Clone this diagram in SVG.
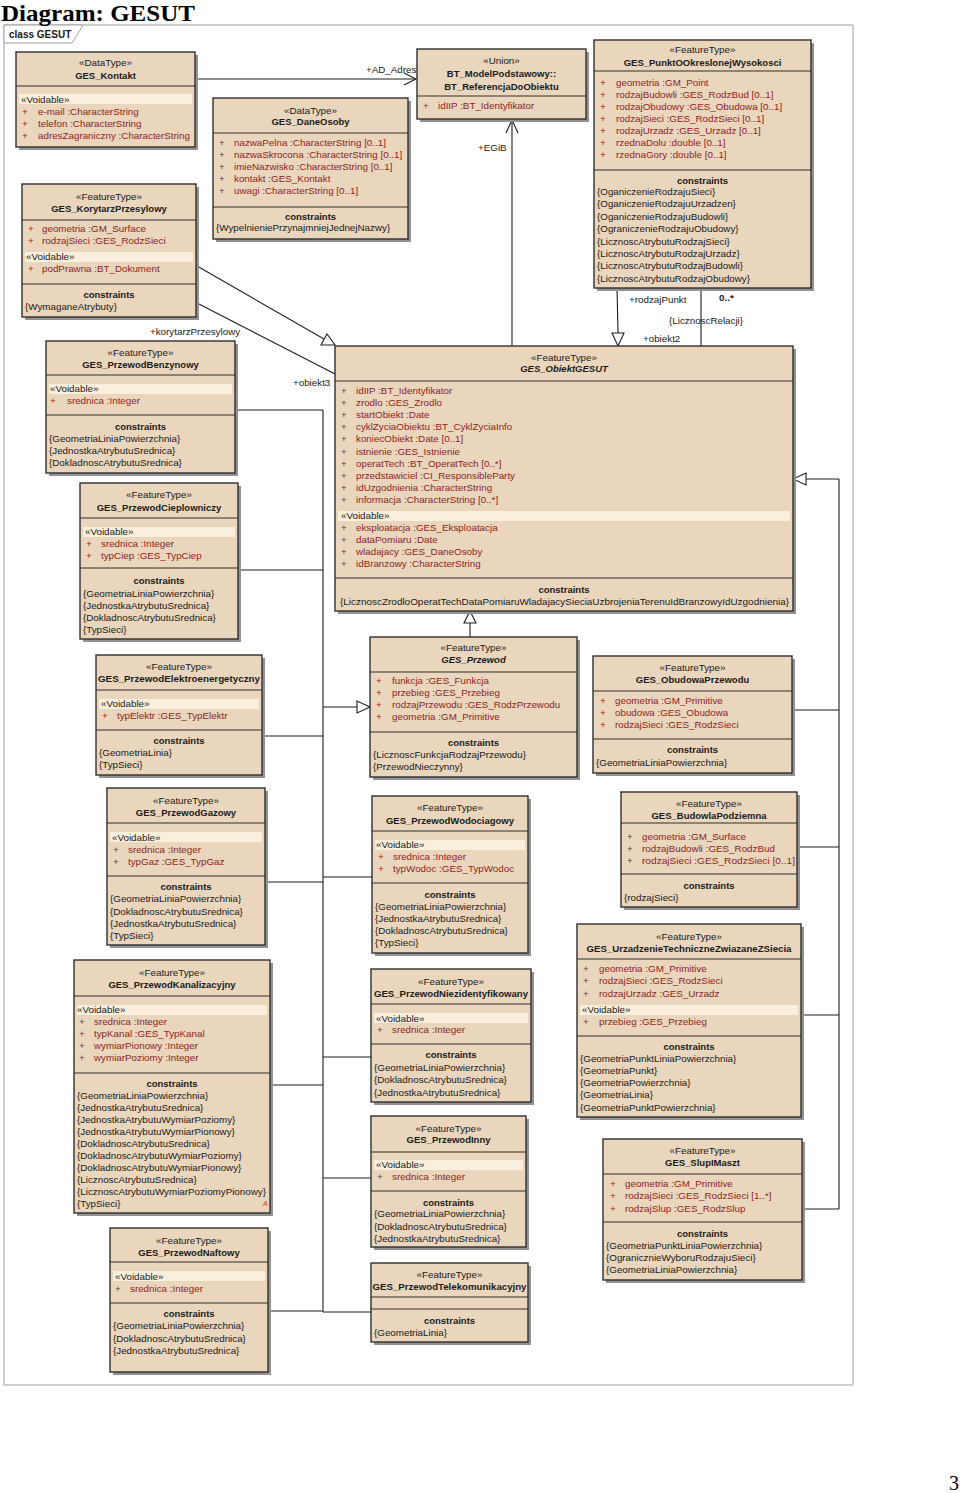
<svg xmlns="http://www.w3.org/2000/svg" width="960" height="1493" viewBox="0 0 960 1493" xml:space="preserve">
<style>
text{font-family:"Liberation Sans",Arial,sans-serif;font-size:9.8px;fill:#1a1a1a}
.sh{fill:#929292}
.bx{fill:#E9D6BC;stroke:#303030;stroke-width:1.4}
.dv{stroke:#303030;stroke-width:1.2}
.bd{fill:#FAEEDC}
.c{text-anchor:middle}
.b{font-weight:bold;font-size:9.5px}
.bi{font-weight:bold;font-style:italic;font-size:9.5px}
.a{fill:#8E2424}
.ln{stroke:#1e1e1e;stroke-width:1.1;fill:none}
.tri{fill:#fff;stroke:#1e1e1e;stroke-width:1.1}
.fr{fill:#fff;stroke:#a0a0a0;stroke-width:1}
</style>
<rect width="960" height="1493" fill="#fff"/>
<g id="frame">
<rect class="fr" x="4" y="25" width="849" height="1360"/>
<polygon class="fr" points="4,25 82,25 82,27 72,43 4,43"/>
<text x="9" y="38" style="font-weight:bold;font-size:10px">class GESUT</text>
</g>
<text x="1" y="20.5" textLength="194" lengthAdjust="spacingAndGlyphs" style="font-family:'Liberation Serif','Times New Roman',serif;font-size:23px;font-weight:bold;fill:#000">Diagram: GESUT</text>
<text x="949" y="1490" style="font-family:'Liberation Serif','Times New Roman',serif;font-size:20px;fill:#000">3</text>

<g id="connectors">
<line class="ln" x1="195" y1="79" x2="416" y2="79"/>
<polyline class="ln" points="404,73 416,79 404,85"/>
<text x="366" y="73">+AD_Adres</text>
<line class="ln" x1="512" y1="346" x2="512" y2="120"/>
<polyline class="ln" points="506,133 512,120 518,133"/>
<text x="478" y="151">+EGiB</text>
<line class="ln" x1="617" y1="288" x2="618" y2="333"/>
<polygon class="tri" points="612,333 624,333 618,346"/>
<line class="ln" x1="701" y1="288" x2="701" y2="346"/>
<text x="629" y="303">+rodzajPunkt</text>
<text x="719" y="301" style="font-weight:bold">0..*</text>
<text x="669" y="324">{LicznoscRelacji}</text>
<text x="643" y="342">+obiekt2</text>
<line class="ln" x1="197" y1="266" x2="324" y2="339"/>
<polygon class="tri" points="335,345 321,345 327,334"/>
<line class="ln" x1="197" y1="303" x2="335" y2="374"/>
<text x="150" y="335">+korytarzPrzesylowy</text>
<text x="293" y="386">+obiekt3</text>
<line class="ln" x1="470" y1="637" x2="470" y2="623"/>
<polygon class="tri" points="464,623 476,623 470,611"/>
<line class="ln" x1="323" y1="410" x2="323" y2="1312"/>
<line class="ln" x1="235" y1="410" x2="323" y2="410"/>
<line class="ln" x1="238" y1="570" x2="323" y2="570"/>
<line class="ln" x1="262" y1="736" x2="323" y2="736"/>
<line class="ln" x1="265" y1="882" x2="323" y2="882"/>
<line class="ln" x1="323" y1="877" x2="372" y2="877"/>
<line class="ln" x1="270" y1="1085" x2="323" y2="1085"/>
<line class="ln" x1="323" y1="1057" x2="371" y2="1057"/>
<line class="ln" x1="323" y1="1178" x2="371" y2="1178"/>
<line class="ln" x1="268" y1="1311" x2="323" y2="1311"/>
<line class="ln" x1="323" y1="1312" x2="371" y2="1312"/>
<line class="ln" x1="323" y1="707" x2="357" y2="707"/>
<polygon class="tri" points="357,701 357,713 370,707"/>
<line class="ln" x1="839" y1="479" x2="839" y2="1209"/>
<line class="ln" x1="806" y1="479" x2="839" y2="479"/>
<polygon class="tri" points="806,473 806,485 793,479"/>
<line class="ln" x1="792" y1="710" x2="839" y2="710"/>
<line class="ln" x1="797" y1="847" x2="839" y2="847"/>
<line class="ln" x1="801" y1="1015" x2="839" y2="1015"/>
<line class="ln" x1="802" y1="1209" x2="839" y2="1209"/>
</g>

<g id="GES_Kontakt">
<rect class="sh" x="19" y="55" width="179" height="95"/>
<rect class="bx" x="16" y="52" width="179" height="95"/>
<line class="dv" x1="16" y1="86" x2="195" y2="86"/>
<rect class="bd" x="19" y="94" width="173" height="10"/>
<text class="c" x="105.5" y="66">«DataType»</text>
<text class="c b" x="105.5" y="79">GES_Kontakt</text>
<text x="21" y="103">«Voidable»</text>
<text class="a" x="22" y="115">+</text><text class="a" x="38" y="115">e-mail  :CharacterString</text>
<text class="a" x="22" y="127">+</text><text class="a" x="38" y="127">telefon  :CharacterString</text>
<text class="a" x="22" y="139">+</text><text class="a" x="38" y="139">adresZagraniczny  :CharacterString</text>
</g>

<g id="GES_KorytarzPrzesylowy">
<rect class="sh" x="25" y="187" width="174" height="133"/>
<rect class="bx" x="22" y="184" width="174" height="133"/>
<line class="dv" x1="22" y1="220" x2="196" y2="220"/>
<line class="dv" x1="22" y1="284" x2="196" y2="284"/>
<rect class="bd" x="25" y="252" width="168" height="10"/>
<text class="c" x="109" y="200">«FeatureType»</text>
<text class="c b" x="109" y="212">GES_KorytarzPrzesylowy</text>
<text class="a" x="28" y="232">+</text><text class="a" x="42" y="232">geometria  :GM_Surface</text>
<text class="a" x="28" y="244">+</text><text class="a" x="42" y="244">rodzajSieci  :GES_RodzSieci</text>
<text x="26" y="260">«Voidable»</text>
<text class="a" x="28" y="272">+</text><text class="a" x="42" y="272">podPrawna  :BT_Dokument</text>
<text class="c b" x="109" y="298">constraints</text>
<text x="25" y="310">{WymaganeAtrybuty}</text>
</g>

<g id="GES_DaneOsoby">
<rect class="sh" x="216" y="101" width="195" height="141"/>
<rect class="bx" x="213" y="98" width="195" height="141"/>
<line class="dv" x1="213" y1="133" x2="408" y2="133"/>
<line class="dv" x1="213" y1="207" x2="408" y2="207"/>
<text class="c" x="310.5" y="114">«DataType»</text>
<text class="c b" x="310.5" y="125">GES_DaneOsoby</text>
<text class="a" x="219" y="146">+</text><text class="a" x="234" y="146">nazwaPelna  :CharacterString [0..1]</text>
<text class="a" x="219" y="158">+</text><text class="a" x="234" y="158">nazwaSkrocona  :CharacterString [0..1]</text>
<text class="a" x="219" y="170">+</text><text class="a" x="234" y="170">imieNazwisko  :CharacterString [0..1]</text>
<text class="a" x="219" y="182">+</text><text class="a" x="234" y="182">kontakt  :GES_Kontakt</text>
<text class="a" x="219" y="194">+</text><text class="a" x="234" y="194">uwagi  :CharacterString [0..1]</text>
<text class="c b" x="310.5" y="220">constraints</text>
<text x="216" y="231">{WypelnieniePrzynajmniejJednejNazwy}</text>
</g>

<g id="BT_ReferencjaDoObiektu">
<rect class="sh" x="420" y="52" width="169" height="70"/>
<rect class="bx" x="417" y="49" width="169" height="70"/>
<line class="dv" x1="417" y1="96" x2="586" y2="96"/>
<text class="c" x="501.5" y="64">«Union»</text>
<text class="c b" x="501.5" y="77">BT_ModelPodstawowy::</text>
<text class="c b" x="501.5" y="90">BT_ReferencjaDoObiektu</text>
<text class="a" x="423" y="109">+</text><text class="a" x="438" y="109">idIIP  :BT_Identyfikator</text>
</g>

<g id="GES_PunktOOkreslonejWysokosci">
<rect class="sh" x="597" y="43" width="217" height="248"/>
<rect class="bx" x="594" y="40" width="217" height="248"/>
<line class="dv" x1="594" y1="71" x2="811" y2="71"/>
<line class="dv" x1="594" y1="170" x2="811" y2="170"/>
<text class="c" x="702.5" y="53">«FeatureType»</text>
<text class="c b" x="702.5" y="66">GES_PunktOOkreslonejWysokosci</text>
<text class="a" x="600" y="86">+</text><text class="a" x="616" y="86">geometria  :GM_Point</text>
<text class="a" x="600" y="98">+</text><text class="a" x="616" y="98">rodzajBudowli  :GES_RodzBud [0..1]</text>
<text class="a" x="600" y="110">+</text><text class="a" x="616" y="110">rodzajObudowy  :GES_Obudowa [0..1]</text>
<text class="a" x="600" y="122">+</text><text class="a" x="616" y="122">rodzajSieci  :GES_RodzSieci [0..1]</text>
<text class="a" x="600" y="134">+</text><text class="a" x="616" y="134">rodzajUrzadz  :GES_Urzadz [0..1]</text>
<text class="a" x="600" y="146">+</text><text class="a" x="616" y="146">rzednaDolu  :double [0..1]</text>
<text class="a" x="600" y="158">+</text><text class="a" x="616" y="158">rzednaGory  :double [0..1]</text>
<text class="c b" x="702.5" y="184">constraints</text>
<text x="597" y="195">{OganiczenieRodzajuSieci}</text>
<text x="597" y="207">{OganiczenieRodzajuUrzadzen}</text>
<text x="597" y="220">{OganiczenieRodzajuBudowli}</text>
<text x="597" y="232">{OgraniczenieRodzajuObudowy}</text>
<text x="597" y="245">{LicznoscAtrybutuRodzajSieci}</text>
<text x="597" y="257">{LicznoscAtrybutuRodzajUrzadz}</text>
<text x="597" y="269">{LicznoscAtrybutuRodzajBudowli}</text>
<text x="597" y="282">{LicznoscAtrybutuRodzajObudowy}</text>
</g>

<g id="GES_ObiektGESUT">
<rect class="sh" x="338" y="349" width="458" height="265"/>
<rect class="bx" x="335" y="346" width="458" height="265"/>
<line class="dv" x1="335" y1="381" x2="793" y2="381"/>
<line class="dv" x1="335" y1="578" x2="793" y2="578"/>
<rect class="bd" x="338" y="511" width="452" height="10"/>
<text class="c" x="564" y="361">«FeatureType»</text>
<text class="c bi" x="564" y="372">GES_ObiektGESUT</text>
<text class="a" x="341" y="394">+</text><text class="a" x="356" y="394">idIIP  :BT_Identyfikator</text>
<text class="a" x="341" y="406">+</text><text class="a" x="356" y="406">zrodlo  :GES_Zrodlo</text>
<text class="a" x="341" y="418">+</text><text class="a" x="356" y="418">startObiekt  :Date</text>
<text class="a" x="341" y="430">+</text><text class="a" x="356" y="430">cyklZyciaObiektu  :BT_CyklZyciaInfo</text>
<text class="a" x="341" y="442">+</text><text class="a" x="356" y="442">koniecObiekt  :Date [0..1]</text>
<text class="a" x="341" y="455">+</text><text class="a" x="356" y="455">istnienie  :GES_Istnienie</text>
<text class="a" x="341" y="467">+</text><text class="a" x="356" y="467">operatTech  :BT_OperatTech [0..*]</text>
<text class="a" x="341" y="479">+</text><text class="a" x="356" y="479">przedstawiciel  :CI_ResponsibleParty</text>
<text class="a" x="341" y="491">+</text><text class="a" x="356" y="491">idUzgodnienia  :CharacterString</text>
<text class="a" x="341" y="503">+</text><text class="a" x="356" y="503">informacja  :CharacterString [0..*]</text>
<text x="341" y="519">«Voidable»</text>
<text class="a" x="341" y="531">+</text><text class="a" x="356" y="531">eksploatacja  :GES_Eksploatacja</text>
<text class="a" x="341" y="543">+</text><text class="a" x="356" y="543">dataPomiaru  :Date</text>
<text class="a" x="341" y="555">+</text><text class="a" x="356" y="555">wladajacy  :GES_DaneOsoby</text>
<text class="a" x="341" y="567">+</text><text class="a" x="356" y="567">idBranzowy  :CharacterString</text>
<text class="c b" x="564" y="593">constraints</text>
<text x="340" y="605" textLength="449" lengthAdjust="spacingAndGlyphs">{LicznoscZrodloOperatTechDataPomiaruWladajacySieciaUzbrojeniaTerenuIdBranzowyIdUzgodnienia}</text>
</g>

<g id="GES_PrzewodBenzynowy">
<rect class="sh" x="49" y="344" width="189" height="132"/>
<rect class="bx" x="46" y="341" width="189" height="132"/>
<line class="dv" x1="46" y1="375" x2="235" y2="375"/>
<line class="dv" x1="46" y1="415" x2="235" y2="415"/>
<rect class="bd" x="49" y="384" width="183" height="10"/>
<text class="c" x="140.5" y="356">«FeatureType»</text>
<text class="c b" x="140.5" y="368">GES_PrzewodBenzynowy</text>
<text x="50" y="392">«Voidable»</text>
<text class="a" x="50" y="404">+</text><text class="a" x="67" y="404">srednica  :Integer</text>
<text class="c b" x="140.5" y="430">constraints</text>
<text x="49" y="442">{GeometriaLiniaPowierzchnia}</text>
<text x="49" y="454">{JednostkaAtrybutuSrednica}</text>
<text x="49" y="466">{DokladnoscAtrybutuSrednica}</text>
</g>

<g id="GES_PrzewodCieplowniczy">
<rect class="sh" x="83" y="486" width="158" height="156"/>
<rect class="bx" x="80" y="483" width="158" height="156"/>
<line class="dv" x1="80" y1="518" x2="238" y2="518"/>
<line class="dv" x1="80" y1="568" x2="238" y2="568"/>
<rect class="bd" x="83" y="527" width="152" height="10"/>
<text class="c" x="159" y="498">«FeatureType»</text>
<text class="c b" x="159" y="511">GES_PrzewodCieplowniczy</text>
<text x="85" y="535">«Voidable»</text>
<text class="a" x="86" y="547">+</text><text class="a" x="101" y="547">srednica  :Integer</text>
<text class="a" x="86" y="559">+</text><text class="a" x="101" y="559">typCiep  :GES_TypCiep</text>
<text class="c b" x="159" y="584">constraints</text>
<text x="83" y="597">{GeometriaLiniaPowierzchnia}</text>
<text x="83" y="609">{JednostkaAtrybutuSrednica}</text>
<text x="83" y="621">{DokladnoscAtrybutuSrednica}</text>
<text x="83" y="633">{TypSieci}</text>
</g>

<g id="GES_PrzewodElektroenergetyczny">
<rect class="sh" x="99" y="658" width="166" height="120"/>
<rect class="bx" x="96" y="655" width="166" height="120"/>
<line class="dv" x1="96" y1="690" x2="262" y2="690"/>
<line class="dv" x1="96" y1="730" x2="262" y2="730"/>
<rect class="bd" x="99" y="699" width="160" height="10"/>
<text class="c" x="179" y="670">«FeatureType»</text>
<text class="c b" x="179" y="682" textLength="162" lengthAdjust="spacingAndGlyphs">GES_PrzewodElektroenergetyczny</text>
<text x="101" y="707">«Voidable»</text>
<text class="a" x="102" y="719">+</text><text class="a" x="117" y="719">typElektr  :GES_TypElektr</text>
<text class="c b" x="179" y="744">constraints</text>
<text x="99" y="756">{GeometriaLinia}</text>
<text x="99" y="768">{TypSieci}</text>
</g>

<g id="GES_Przewod">
<rect class="sh" x="373" y="640" width="207" height="140"/>
<rect class="bx" x="370" y="637" width="207" height="140"/>
<line class="dv" x1="370" y1="672" x2="577" y2="672"/>
<line class="dv" x1="370" y1="732" x2="577" y2="732"/>
<text class="c" x="473.5" y="651">«FeatureType»</text>
<text class="c bi" x="473.5" y="663">GES_Przewod</text>
<text class="a" x="376" y="684">+</text><text class="a" x="392" y="684">funkcja  :GES_Funkcja</text>
<text class="a" x="376" y="696">+</text><text class="a" x="392" y="696">przebieg  :GES_Przebieg</text>
<text class="a" x="376" y="708">+</text><text class="a" x="392" y="708">rodzajPrzewodu  :GES_RodzPrzewodu</text>
<text class="a" x="376" y="720">+</text><text class="a" x="392" y="720">geometria  :GM_Primitive</text>
<text class="c b" x="473.5" y="746">constraints</text>
<text x="373" y="758">{LicznoscFunkcjaRodzajPrzewodu}</text>
<text x="373" y="770">{PrzewodNieczynny}</text>
</g>

<g id="GES_ObudowaPrzewodu">
<rect class="sh" x="596" y="659" width="199" height="117"/>
<rect class="bx" x="593" y="656" width="199" height="117"/>
<line class="dv" x1="593" y1="691" x2="792" y2="691"/>
<line class="dv" x1="593" y1="739" x2="792" y2="739"/>
<text class="c" x="692.5" y="671">«FeatureType»</text>
<text class="c b" x="692.5" y="683">GES_ObudowaPrzewodu</text>
<text class="a" x="600" y="704">+</text><text class="a" x="615" y="704">geometria  :GM_Primitive</text>
<text class="a" x="600" y="716">+</text><text class="a" x="615" y="716">obudowa  :GES_Obudowa</text>
<text class="a" x="600" y="728">+</text><text class="a" x="615" y="728">rodzajSieci  :GES_RodzSieci</text>
<text class="c b" x="692.5" y="753">constraints</text>
<text x="596" y="766">{GeometriaLiniaPowierzchnia}</text>
</g>

<g id="GES_PrzewodGazowy">
<rect class="sh" x="110" y="791" width="158" height="157"/>
<rect class="bx" x="107" y="788" width="158" height="157"/>
<line class="dv" x1="107" y1="823" x2="265" y2="823"/>
<line class="dv" x1="107" y1="876" x2="265" y2="876"/>
<rect class="bd" x="110" y="832" width="152" height="10"/>
<text class="c" x="186" y="804">«FeatureType»</text>
<text class="c b" x="186" y="816">GES_PrzewodGazowy</text>
<text x="112" y="841">«Voidable»</text>
<text class="a" x="113" y="853">+</text><text class="a" x="128" y="853">srednica  :Integer</text>
<text class="a" x="113" y="865">+</text><text class="a" x="128" y="865">typGaz  :GES_TypGaz</text>
<text class="c b" x="186" y="890">constraints</text>
<text x="110" y="902">{GeometriaLiniaPowierzchnia}</text>
<text x="110" y="915">{DokladnoscAtrybutuSrednica}</text>
<text x="110" y="927">{JednostkaAtrybutuSrednica}</text>
<text x="110" y="939">{TypSieci}</text>
</g>

<g id="GES_PrzewodWodociagowy">
<rect class="sh" x="375" y="799" width="156" height="157"/>
<rect class="bx" x="372" y="796" width="156" height="157"/>
<line class="dv" x1="372" y1="831" x2="528" y2="831"/>
<line class="dv" x1="372" y1="883" x2="528" y2="883"/>
<rect class="bd" x="375" y="840" width="150" height="10"/>
<text class="c" x="450" y="811">«FeatureType»</text>
<text class="c b" x="450" y="824">GES_PrzewodWodociagowy</text>
<text x="376" y="848">«Voidable»</text>
<text class="a" x="378" y="860">+</text><text class="a" x="393" y="860">srednica  :Integer</text>
<text class="a" x="378" y="872">+</text><text class="a" x="393" y="872">typWodoc  :GES_TypWodoc</text>
<text class="c b" x="450" y="898">constraints</text>
<text x="375" y="910">{GeometriaLiniaPowierzchnia}</text>
<text x="375" y="922">{JednostkaAtrybutuSrednica}</text>
<text x="375" y="934">{DokladnoscAtrybutuSrednica}</text>
<text x="375" y="946">{TypSieci}</text>
</g>

<g id="GES_BudowlaPodziemna">
<rect class="sh" x="624" y="795" width="176" height="115"/>
<rect class="bx" x="621" y="792" width="176" height="115"/>
<line class="dv" x1="621" y1="823" x2="797" y2="823"/>
<line class="dv" x1="621" y1="874" x2="797" y2="874"/>
<text class="c" x="709" y="807">«FeatureType»</text>
<text class="c b" x="709" y="819">GES_BudowlaPodziemna</text>
<text class="a" x="627" y="840">+</text><text class="a" x="642" y="840">geometria  :GM_Surface</text>
<text class="a" x="627" y="852">+</text><text class="a" x="642" y="852">rodzajBudowli  :GES_RodzBud</text>
<text class="a" x="627" y="864">+</text><text class="a" x="642" y="864" textLength="153" lengthAdjust="spacingAndGlyphs">rodzajSieci  :GES_RodzSieci [0..1]</text>
<text class="c b" x="709" y="889">constraints</text>
<text x="624" y="901">{rodzajSieci}</text>
</g>

<g id="GES_UrzadzenieTechniczneZwiazaneZSiecia">
<rect class="sh" x="580" y="927" width="224" height="193"/>
<rect class="bx" x="577" y="924" width="224" height="193"/>
<line class="dv" x1="577" y1="959" x2="801" y2="959"/>
<line class="dv" x1="577" y1="1036" x2="801" y2="1036"/>
<rect class="bd" x="580" y="1005" width="218" height="10"/>
<text class="c" x="689" y="940">«FeatureType»</text>
<text class="c b" x="689" y="952" textLength="205" lengthAdjust="spacingAndGlyphs">GES_UrzadzenieTechniczneZwiazaneZSiecia</text>
<text class="a" x="583" y="972">+</text><text class="a" x="599" y="972">geometria  :GM_Primitive</text>
<text class="a" x="583" y="984">+</text><text class="a" x="599" y="984">rodzajSieci  :GES_RodzSieci</text>
<text class="a" x="583" y="997">+</text><text class="a" x="599" y="997">rodzajUrzadz  :GES_Urzadz</text>
<text x="582" y="1013">«Voidable»</text>
<text class="a" x="583" y="1025">+</text><text class="a" x="599" y="1025">przebieg  :GES_Przebieg</text>
<text class="c b" x="689" y="1050">constraints</text>
<text x="580" y="1062">{GeometriaPunktLiniaPowierzchnia}</text>
<text x="580" y="1074">{GeometriaPunkt}</text>
<text x="580" y="1086">{GeometriaPowierzchnia}</text>
<text x="580" y="1098">{GeometriaLinia}</text>
<text x="580" y="1111">{GeometriaPunktPowierzchnia}</text>
</g>

<g id="GES_PrzewodKanalizacyjny">
<rect class="sh" x="77" y="963" width="196" height="253"/>
<rect class="bx" x="74" y="960" width="196" height="253"/>
<line class="dv" x1="74" y1="996" x2="270" y2="996"/>
<line class="dv" x1="74" y1="1073" x2="270" y2="1073"/>
<rect class="bd" x="77" y="1005" width="190" height="10"/>
<text class="c" x="172" y="976">«FeatureType»</text>
<text class="c b" x="172" y="988">GES_PrzewodKanalizacyjny</text>
<text x="77" y="1013">«Voidable»</text>
<text class="a" x="79" y="1025">+</text><text class="a" x="94" y="1025">srednica  :Integer</text>
<text class="a" x="79" y="1037">+</text><text class="a" x="94" y="1037">typKanal  :GES_TypKanal</text>
<text class="a" x="79" y="1049">+</text><text class="a" x="94" y="1049">wymiarPionowy  :Integer</text>
<text class="a" x="79" y="1061">+</text><text class="a" x="94" y="1061">wymiarPoziomy  :Integer</text>
<text class="c b" x="172" y="1087">constraints</text>
<text x="77" y="1099">{GeometriaLiniaPowierzchnia}</text>
<text x="77" y="1111">{JednostkaAtrybutuSrednica}</text>
<text x="77" y="1123">{JednostkaAtrybutuWymiarPoziomy}</text>
<text x="77" y="1135">{JednostkaAtrybutuWymiarPionowy}</text>
<text x="77" y="1147">{DokladnoscAtrybutuSrednica}</text>
<text x="77" y="1159">{DokladnoscAtrybutuWymiarPoziomy}</text>
<text x="77" y="1171">{DokladnoscAtrybutuWymiarPionowy}</text>
<text x="77" y="1183">{LicznoscAtrybutuSrednica}</text>
<text x="77" y="1195" textLength="189" lengthAdjust="spacingAndGlyphs">{LicznoscAtrybutuWymiarPoziomyPionowy}</text>
<text x="77" y="1207">{TypSieci}</text>
<text x="263" y="1206" style="font-size:7px;font-style:italic;fill:#d03030">A</text>
</g>

<g id="GES_PrzewodNiezidentyfikowany">
<rect class="sh" x="374" y="972" width="160" height="133"/>
<rect class="bx" x="371" y="969" width="160" height="133"/>
<line class="dv" x1="371" y1="1004" x2="531" y2="1004"/>
<line class="dv" x1="371" y1="1044" x2="531" y2="1044"/>
<rect class="bd" x="374" y="1013" width="154" height="10"/>
<text class="c" x="451" y="985">«FeatureType»</text>
<text class="c b" x="451" y="997" textLength="154" lengthAdjust="spacingAndGlyphs">GES_PrzewodNiezidentyfikowany</text>
<text x="376" y="1022">«Voidable»</text>
<text class="a" x="377" y="1033">+</text><text class="a" x="392" y="1033">srednica  :Integer</text>
<text class="c b" x="451" y="1058">constraints</text>
<text x="374" y="1071">{GeometriaLiniaPowierzchnia}</text>
<text x="374" y="1083">{DokladnoscAtrybutuSrednica}</text>
<text x="374" y="1096">{JednostkaAtrybutuSrednica}</text>
</g>

<g id="GES_PrzewodInny">
<rect class="sh" x="374" y="1119" width="155" height="131"/>
<rect class="bx" x="371" y="1116" width="155" height="131"/>
<line class="dv" x1="371" y1="1152" x2="526" y2="1152"/>
<line class="dv" x1="371" y1="1191" x2="526" y2="1191"/>
<rect class="bd" x="374" y="1160" width="149" height="10"/>
<text class="c" x="448.5" y="1132">«FeatureType»</text>
<text class="c b" x="448.5" y="1143">GES_PrzewodInny</text>
<text x="376" y="1168">«Voidable»</text>
<text class="a" x="377" y="1180">+</text><text class="a" x="392" y="1180">srednica  :Integer</text>
<text class="c b" x="448.5" y="1206">constraints</text>
<text x="374" y="1217">{GeometriaLiniaPowierzchnia}</text>
<text x="374" y="1230">{DokladnoscAtrybutuSrednica}</text>
<text x="374" y="1242">{JednostkaAtrybutuSrednica}</text>
</g>

<g id="GES_PrzewodNaftowy">
<rect class="sh" x="113" y="1231" width="158" height="144"/>
<rect class="bx" x="110" y="1228" width="158" height="144"/>
<line class="dv" x1="110" y1="1262" x2="268" y2="1262"/>
<line class="dv" x1="110" y1="1303" x2="268" y2="1303"/>
<rect class="bd" x="113" y="1271" width="152" height="10"/>
<text class="c" x="189" y="1244">«FeatureType»</text>
<text class="c b" x="189" y="1256">GES_PrzewodNaftowy</text>
<text x="115" y="1280">«Voidable»</text>
<text class="a" x="115" y="1292">+</text><text class="a" x="130" y="1292">srednica  :Integer</text>
<text class="c b" x="189" y="1317">constraints</text>
<text x="113" y="1329">{GeometriaLiniaPowierzchnia}</text>
<text x="113" y="1342">{DokladnoscAtrybutuSrednica}</text>
<text x="113" y="1354">{JednostkaAtrybutuSrednica}</text>
</g>

<g id="GES_PrzewodTelekomunikacyjny">
<rect class="sh" x="374" y="1266" width="157" height="79"/>
<rect class="bx" x="371" y="1263" width="157" height="79"/>
<line class="dv" x1="371" y1="1297" x2="528" y2="1297"/>
<line class="dv" x1="371" y1="1309" x2="528" y2="1309"/>
<text class="c" x="449.5" y="1278">«FeatureType»</text>
<text class="c b" x="449.5" y="1290" textLength="154" lengthAdjust="spacingAndGlyphs">GES_PrzewodTelekomunikacyjny</text>
<text class="c b" x="449.5" y="1324">constraints</text>
<text x="374" y="1336">{GeometriaLinia}</text>
</g>

<g id="GES_SlupIMaszt">
<rect class="sh" x="606" y="1142" width="199" height="141"/>
<rect class="bx" x="603" y="1139" width="199" height="141"/>
<line class="dv" x1="603" y1="1174" x2="802" y2="1174"/>
<line class="dv" x1="603" y1="1222" x2="802" y2="1222"/>
<text class="c" x="702.5" y="1154">«FeatureType»</text>
<text class="c b" x="702.5" y="1166">GES_SlupIMaszt</text>
<text class="a" x="610" y="1187">+</text><text class="a" x="625" y="1187">geometria  :GM_Primitive</text>
<text class="a" x="610" y="1199">+</text><text class="a" x="625" y="1199">rodzajSieci  :GES_RodzSieci [1..*]</text>
<text class="a" x="610" y="1212">+</text><text class="a" x="625" y="1212">rodzajSlup  :GES_RodzSlup</text>
<text class="c b" x="702.5" y="1237">constraints</text>
<text x="606" y="1249">{GeometriaPunktLiniaPowierzchnia}</text>
<text x="606" y="1261">{OgranicznieWyboruRodzajuSieci}</text>
<text x="606" y="1273">{GeometriaLiniaPowierzchnia}</text>
</g>
</svg>
